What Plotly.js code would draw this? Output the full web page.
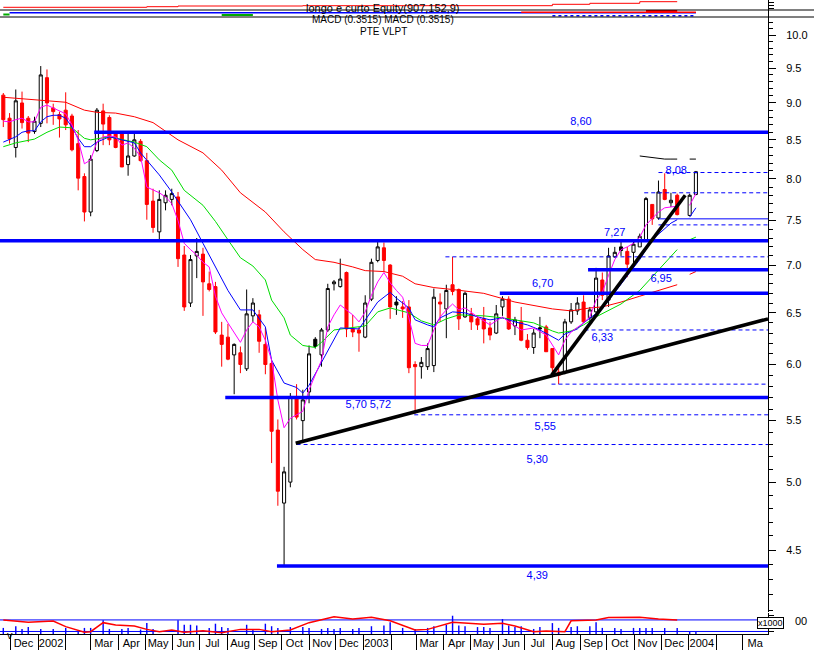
<!DOCTYPE html>
<html><head><meta charset="utf-8">
<script src="https://cdn.plot.ly/plotly-3.0.1.min.js"></script>
<style>html,body{margin:0;padding:0;background:#fff}#chart{width:814px;height:650px}</style>
</head><body><div id="chart"></div>
<script>
// ---------------- DATA ----------------
const weekDates = [
'2001-11-23','2001-11-30','2001-12-07','2001-12-14','2001-12-21','2001-12-28',
'2002-01-04','2002-01-11','2002-01-18','2002-01-25','2002-02-01','2002-02-08','2002-02-15','2002-02-22',
'2002-03-01','2002-03-08','2002-03-15','2002-03-22','2002-03-29',
'2002-04-05','2002-04-12','2002-04-19','2002-04-26',
'2002-05-03','2002-05-10','2002-05-17','2002-05-24','2002-05-31',
'2002-06-07','2002-06-14','2002-06-21','2002-06-28',
'2002-07-05','2002-07-12','2002-07-19','2002-07-26',
'2002-08-02','2002-08-09','2002-08-16','2002-08-23','2002-08-30',
'2002-09-06','2002-09-13','2002-09-20','2002-09-27',
'2002-10-04','2002-10-11','2002-10-18','2002-10-25',
'2002-11-01','2002-11-08','2002-11-15','2002-11-22','2002-11-29',
'2002-12-06','2002-12-13','2002-12-20','2002-12-27',
'2003-01-03','2003-01-10','2003-01-17','2003-01-24','2003-01-31',
'2003-02-07','2003-02-14','2003-02-21','2003-02-28',
'2003-03-07','2003-03-14','2003-03-21','2003-03-28',
'2003-04-04','2003-04-11','2003-04-18','2003-04-25',
'2003-05-02','2003-05-09','2003-05-16','2003-05-23','2003-05-30',
'2003-06-06','2003-06-13','2003-06-20','2003-06-27',
'2003-07-04','2003-07-11','2003-07-18','2003-07-25',
'2003-08-01','2003-08-08','2003-08-15','2003-08-22','2003-08-29',
'2003-09-05','2003-09-12','2003-09-19','2003-09-26',
'2003-10-03','2003-10-10','2003-10-17','2003-10-24','2003-10-31',
'2003-11-07','2003-11-14','2003-11-21','2003-11-28',
'2003-12-05','2003-12-12','2003-12-19','2003-12-26',
'2004-01-02','2004-01-09'];

const openP = [9.11,8.79,8.40,9.00,8.79,8.61,8.72,9.36,8.93,8.84,8.90,8.82,8.45,8.03,7.60,8.36,8.89,8.80,8.58,8.58,
8.18,8.29,8.48,8.23,7.73,7.37,7.71,7.75,7.78,7.11,6.60,7.10,7.12,6.80,6.77,6.28,6.26,6.09,6.11,5.96,
6.47,6.48,6.19,6.01,5.42,4.84,5.00,5.71,5.50,5.75,6.17,6.09,6.33,6.80,6.77,6.92,6.34,6.33,6.26,6.64,
7.05,7.19,7.00,6.58,6.56,6.56,6.00,5.98,5.98,5.99,6.61,6.54,6.79,6.74,6.46,6.49,6.44,6.44,6.35,6.30,
6.56,6.64,6.37,6.41,6.23,6.16,6.34,6.36,6.15,5.93,5.93,6.41,6.52,6.61,6.45,6.51,6.84,6.63,7.09,7.16,
7.15,7.14,7.20,7.28,7.69,7.53,7.87,7.71,7.80,null,7.56,7.81];
const highP = [9.14,8.86,9.19,9.16,8.82,8.81,9.53,9.48,8.99,8.88,9.15,8.85,8.63,8.07,8.30,8.93,8.99,8.83,8.60,8.60,
8.58,8.58,8.51,8.33,7.88,7.86,7.86,7.88,7.84,7.21,7.11,7.30,7.19,6.93,6.82,6.41,6.39,6.20,6.17,6.74,
6.65,6.53,6.35,6.04,5.51,5.12,5.74,5.82,5.77,6.18,6.26,6.35,6.80,6.84,7.07,6.93,6.48,6.36,6.68,7.07,
7.26,7.25,7.01,6.67,6.62,6.63,6.03,6.07,6.20,6.75,6.70,6.79,7.09,6.75,6.72,6.55,6.46,6.56,6.41,6.58,
6.67,6.67,6.46,6.56,6.29,6.34,6.46,6.38,6.15,5.97,6.44,6.60,6.66,6.68,6.56,6.97,6.92,7.19,7.20,7.26,
7.20,7.26,7.35,7.78,7.69,7.98,8.07,7.83,7.82,null,7.82,8.10];
const lowP = [8.67,8.45,8.27,8.65,8.47,8.58,8.67,8.72,8.70,8.53,8.63,8.35,7.86,7.49,7.55,8.34,8.43,8.43,8.39,8.15,
8.04,8.28,8.22,7.51,7.36,7.28,7.62,7.68,6.98,6.52,6.56,6.86,6.47,6.72,6.29,5.98,6.04,5.73,5.92,5.94,
6.41,6.11,5.91,5.15,4.82,4.39,4.96,5.51,5.32,5.65,6.15,5.98,6.31,6.73,6.76,6.26,6.26,6.12,6.25,6.62,
7.03,6.93,6.44,6.48,6.45,5.92,5.56,5.87,5.95,5.93,6.41,6.25,6.68,6.33,6.45,6.33,6.33,6.20,6.23,6.29,
6.47,6.33,6.28,6.22,6.14,6.10,6.25,6.12,5.90,5.82,5.91,6.39,6.48,6.40,6.41,6.50,6.63,6.56,7.08,7.10,
6.87,6.97,7.20,7.26,7.45,7.51,7.74,7.66,7.56,null,7.55,7.80];
const closeP = [8.77,8.51,9.03,8.73,8.59,8.75,9.40,9.00,8.88,8.78,8.70,8.37,8.01,7.60,8.25,8.90,8.71,8.50,8.40,8.15,
8.29,8.50,8.23,7.69,7.42,7.75,7.80,7.82,7.07,6.56,7.06,7.15,6.82,6.74,6.31,6.19,6.05,6.19,6.00,6.49,
6.60,6.22,6.00,5.41,4.93,5.08,5.71,5.53,5.68,6.10,6.24,6.33,6.75,6.82,6.85,6.34,6.31,6.30,6.60,7.03,
7.20,7.05,6.56,6.61,6.54,5.97,5.98,6.02,6.15,6.66,6.59,6.73,6.72,6.44,6.70,6.41,6.38,6.34,6.28,6.49,
6.64,6.34,6.43,6.23,6.16,6.30,6.35,6.12,5.97,5.90,6.41,6.53,6.60,6.41,6.53,6.86,6.68,7.10,7.14,7.20,
7.01,7.23,7.32,7.76,7.52,7.84,7.75,7.74,7.57,null,7.80,8.09];
const blackBodyIdx = [50, 63, 86, 99];

// moving averages: [week index, price]
const maRed = [[0,9.08],[5,9.05],[10,9.01],[13,8.90],[15,8.87],[18,8.86],[21,8.81],[24,8.73],[25,8.67],[28,8.50],
[32,8.33],[35,8.11],[38,7.83],[41,7.66],[42,7.60],[45,7.37],[48,7.17],[50,7.06],[53,7.03],[56,6.98],[58,6.94],
[61,6.93],[64,6.88],[66,6.80],[69,6.76],[72,6.74],[77,6.70],[82,6.61],[88,6.54],[91,6.52],[94,6.55],[96,6.56],
[99,6.61],[102,6.67],[105,6.73],[108,6.79],[109,null],[110,6.90],[111,6.93]];
const maGreen = [[0,8.41],[2,8.46],[5,8.51],[7,8.60],[9,8.67],[11,8.66],[13,8.52],[14,8.50],[17,8.54],[19,8.50],
[21,8.47],[23,8.41],[25,8.24],[27,8.11],[29,7.86],[32,7.68],[34,7.49],[36,7.28],[38,7.08],[40,6.99],[42,6.84],
[43,6.63],[45,6.45],[46,6.28],[48,6.18],[50,6.16],[51,6.21],[53,6.33],[56,6.35],[58,6.37],[60,6.51],[62,6.55],
[65,6.50],[67,6.42],[69,6.38],[71,6.44],[73,6.48],[77,6.47],[80,6.45],[82,6.43],[85,6.40],[88,6.32],[89,6.30],
[91,6.32],[93,6.38],[95,6.46],[99,6.59],[102,6.73],[105,6.95],[108,7.17],[109,null],[110,7.28],[111,7.31]];
const maBlue = [[0,8.47],[1,8.50],[2,8.54],[3,8.60],[4,8.62],[5,8.62],[6,8.74],[7,8.81],[8,8.83],[9,8.83],[10,8.79],
[11,8.67],[12,8.52],[13,8.41],[14,8.41],[15,8.47],[17,8.54],[19,8.50],[21,8.46],[22,8.33],[24,8.15],[25,8.05],
[27,7.84],[30,7.51],[32,7.24],[34,6.98],[36,6.73],[38,6.53],[40,6.53],[42,6.36],[43,6.04],[45,5.83],[47,5.79],
[48,5.74],[49,5.81],[51,6.02],[53,6.23],[54,6.35],[57,6.34],[58,6.43],[60,6.61],[62,6.71],[63,6.65],[65,6.55],
[66,6.43],[68,6.38],[69,6.36],[70,6.45],[72,6.51],[74,6.50],[76,6.46],[78,6.43],[80,6.45],[82,6.41],[84,6.38],
[86,6.33],[89,6.23],[90,6.29],[92,6.34],[93,6.40],[96,6.54],[98,6.71],[100,6.88],[102,7.06],[104,7.28],[107,7.47],
[108,7.51],[109,null],[110,7.54],[111,7.65]];
const maMagenta = [[0,8.75],[1,8.74],[2,8.77],[3,8.79],[4,8.74],[5,8.74],[6,8.94],[7,8.97],[8,8.93],[9,8.89],[10,8.85],
[11,8.70],[12,8.50],[13,8.19],[14,8.24],[15,8.47],[16,8.54],[17,8.55],[18,8.54],[19,8.43],[20,8.46],[21,8.39],
[22,8.28],[23,7.90],[24,7.86],[25,7.83],[26,7.78],[27,7.70],[28,7.50],[29,7.24],[30,7.17],[31,7.11],[32,7.03],
[33,6.98],[34,6.67],[35,6.50],[36,6.40],[37,6.31],[38,6.21],[39,6.33],[40,6.41],[41,6.36],[42,6.23],[43,6.04],
[44,5.68],[45,5.44],[46,5.52],[47,5.55],[48,5.58],[49,5.77],[50,5.90],[51,6.04],[52,6.36],[53,6.48],[54,6.58],
[55,6.53],[56,6.48],[57,6.41],[58,6.51],[59,6.68],[60,6.82],[61,6.92],[62,6.81],[63,6.73],[64,6.66],[65,6.45],
[66,6.20],[67,6.18],[68,6.18],[69,6.33],[70,6.46],[71,6.53],[72,6.59],[73,6.53],[74,6.55],[76,6.46],[78,6.38],
[80,6.46],[81,6.41],[83,6.33],[85,6.35],[87,6.28],[89,6.09],[90,6.23],[91,6.31],[93,6.40],[94,6.46],[95,6.63],
[96,6.71],[97,6.89],[98,7.06],[99,7.17],[100,7.20],[101,7.24],[102,7.31],[103,7.45],[104,7.53],[105,7.60],
[106,7.65],[107,7.66],[108,7.67],[109,null],[110,7.68],[111,7.82]];
const maBlackTop = [[102,8.29],[103,8.28],[104,8.27],[105,8.26],[106,8.25],[107,8.25],[108,8.25],[109,null],[110,8.25],[111,8.25]];

// support / resistance levels
const levelValues = [8.60, 7.27, 6.95, 6.70, 5.70, 4.39];
const levelStarts = ['2002-03-05','2001-11-19','2003-09-10','2003-06-03','2002-07-30','2002-09-26'];
const dashValues  = [8.08, 7.83, 7.45, 7.09, 6.33, 5.82, 5.55, 5.30];
const dashStarts  = ['2003-11-28','2003-11-12','2003-11-28','2003-04-03','2003-09-06','2003-07-31','2003-02-27','2002-10-18'];
const thinValues  = [7.52];
const thinStarts  = ['2003-11-28'];
const levelEnd = '2004-03-29 21:00';

// trend lines: [date, price]
const trendLong  = [['2002-10-17',5.31],['2004-03-29 21:00',6.44]];
const trendSteep = [['2003-07-31',5.90],['2003-12-28',7.80]];

// level label texts and anchors
const labelTexts  = ['8,60','7,27','6,95','6,70','5,70','5,72','6,33','5,55','5,30','4,39','8,08'];
const labelDates  = ['2003-09-02','2003-10-10','2003-12-01','2003-07-21','2002-12-24','2003-01-20','2003-09-26','2003-07-24','2003-07-15','2003-07-15','2003-12-18'];
const labelPrices = [8.74, 7.35, 6.85, 6.79, 5.63, 5.63, 6.25, 5.44, 5.17, 4.32, 8.10];

// volume (weekly, relative units) and oscillator lines in lower panel
const volume = [[0,29],[2,37],[3,24],[4,33],[6,24],[8,24],[10,29],[12,13],[13,29],[14,29],[16,65],[17,24],[19,24],
[20,29],[22,21],[23,52],[24,24],[28,65],[29,44],[30,44],[31,40],[33,29],[34,49],[35,33],[36,29],[39,44],[40,24],
[42,49],[43,37],[44,29],[46,33],[48,33],[49,29],[51,24],[52,29],[53,24],[54,29],[56,24],[57,29],[59,37],[61,40],
[62,56],[64,29],[66,24],[68,29],[69,37],[71,44],[72,87],[73,40],[74,37],[76,33],[77,33],[78,29],[80,71],[81,40],
[82,33],[83,37],[85,24],[86,33],[88,52],[89,29],[91,33],[92,37],[94,37],[95,56],[96,29],[98,29],[99,24],[101,29],
[102,29],[103,29],[104,29],[106,29],[108,29],[110,10],[111,10]];
const oscRed = [[0,67],[2,63],[4,56],[8,62],[10,35],[13,8],[14,11],[16,54],[18,43],[21,38],[23,22],[25,11],[27,19],
[29,8],[32,16],[35,6],[38,22],[41,22],[43,11],[46,19],[49,54],[53,82],[56,71],[59,80],[62,63],[66,19],[68,22],
[72,56],[74,51],[77,46],[80,51],[82,38],[85,11],[87,14],[90,11],[91,63],[95,67],[97,78],[102,80],[105,71],[108,67]];
const oscLevels = [67, 12];

// top strip (squeezed indicator panel) and the thin band below it
const topRed = [[0,2.7],[23,3.3],[28,4.0],[48,4.3],[88,5.7],[94,6.7],[102,8.3],[108,8.3]];
const bandBlue = [[1,4.3],[111,4.3]];
const bandRed = [[83,4.7],[111,4.7]];
const bandRedHigh = [[103,6.0],[108,6.0]];
const bandGreenA = [[0,2.5],[1,2.5]];
const bandGreenB = [[35,2.0],[40,2.0]];
const bandBlueDash = [[88,1.3],[111,1.3]];

// axis ticks
const monthTickDates = ['2001-12-01','2002-01-01','2002-02-01','2002-03-01','2002-04-01','2002-05-01','2002-06-01',
'2002-07-01','2002-08-01','2002-09-01','2002-10-01','2002-11-01','2002-12-01','2003-01-01','2003-02-01','2003-03-01',
'2003-04-01','2003-05-01','2003-06-01','2003-07-01','2003-08-01','2003-09-01','2003-10-01','2003-11-01','2003-12-01',
'2004-01-01','2004-02-01','2004-03-01'];
const monthTickText = ['Dec','2002','','Mar','Apr','May','Jun','Jul','Aug','Sep','Oct','Nov','Dec','2003','','Mar',
'Apr','May','Jun','Jul','Aug','Sep','Oct','Nov','Dec','2004','','Ma'];
const priceTickVals = [4.5,5.0,5.5,6.0,6.5,7.0,7.5,8.0,8.5,9.0,9.5,10.0];
const priceTickText = ['4.5','5.0','5.5','6.0','6.5','7.0','7.5','8.0','8.5','9.0','9.5','10.0'];

// ---------------- BUILD ----------------
const FONT = 'Liberation Sans, Arial, sans-serif';
const BLUE = '#0000ff';
const xRange = ['2001-11-19 07:00', '2004-03-29 21:00'];
const H = 634; // plot area height in px
const pf = px => (H - px) / H;

const isBlack = i => blackBodyIdx.indexOf(i) >= 0;
const traces = [];
traces.push({
  type: 'candlestick', x: weekDates,
  open: openP.map((v,i)=>isBlack(i)?null:v), high: highP.map((v,i)=>isBlack(i)?null:v),
  low: lowP.map((v,i)=>isBlack(i)?null:v), close: closeP.map((v,i)=>isBlack(i)?null:v),
  increasing: {line:{color:'#000', width:1}, fillcolor:'#ffffff'},
  decreasing: {line:{color:'#ff0000', width:1}, fillcolor:'#ff0000'},
  whiskerwidth: 0, hoverinfo: 'skip', xaxis:'x', yaxis:'y'
});
traces.push({
  type: 'candlestick', x: blackBodyIdx.map(i=>weekDates[i]),
  open: blackBodyIdx.map(i=>openP[i]), high: blackBodyIdx.map(i=>highP[i]),
  low: blackBodyIdx.map(i=>lowP[i]), close: blackBodyIdx.map(i=>closeP[i]),
  increasing: {line:{color:'#000', width:1}, fillcolor:'#000'},
  decreasing: {line:{color:'#000', width:1}, fillcolor:'#000'},
  whiskerwidth: 0, hoverinfo: 'skip', xaxis:'x', yaxis:'y'
});
function pairLine(pairs, color, width, yaxis, dash) {
  return {type:'scatter', mode:'lines', x: pairs.map(p=>weekDates[p[0]]), y: pairs.map(p=>p[1]),
    line:{color:color, width:width, dash:dash||'solid'}, connectgaps:false, hoverinfo:'skip', xaxis:'x', yaxis:yaxis};
}
traces.push(pairLine(maRed, '#ff0000', 1, 'y'));
traces.push(pairLine(maGreen, '#00dd00', 1, 'y'));
traces.push(pairLine(maBlue, '#0000ff', 1, 'y'));
traces.push(pairLine(maMagenta, '#ff00ff', 1, 'y'));
traces.push(pairLine(maBlackTop, '#000000', 1, 'y'));

levelValues.forEach((v,k)=>traces.push({type:'scatter', mode:'lines', x:[levelStarts[k], levelEnd], y:[v,v],
  line:{color:BLUE, width:3.5}, hoverinfo:'skip', xaxis:'x', yaxis:'y'}));
dashValues.forEach((v,k)=>traces.push({type:'scatter', mode:'lines', x:[dashStarts[k], levelEnd], y:[v,v],
  line:{color:BLUE, width:1, dash:'4px,3px'}, hoverinfo:'skip', xaxis:'x', yaxis:'y'}));
thinValues.forEach((v,k)=>traces.push({type:'scatter', mode:'lines', x:[thinStarts[k], levelEnd], y:[v,v],
  line:{color:BLUE, width:1}, hoverinfo:'skip', xaxis:'x', yaxis:'y'}));
[trendLong, trendSteep].forEach(t=>traces.push({type:'scatter', mode:'lines', x:t.map(p=>p[0]), y:t.map(p=>p[1]),
  line:{color:'#000', width:3.5}, hoverinfo:'skip', xaxis:'x', yaxis:'y'}));
traces.push({type:'scatter', mode:'text', x: labelDates, y: labelPrices, text: labelTexts,
  textposition:'middle center', textfont:{family:FONT, size:11, color:BLUE}, hoverinfo:'skip', xaxis:'x', yaxis:'y'});

// lower panel
traces.push({type:'bar', x: volume.map(p=>weekDates[p[0]]), y: volume.map(p=>p[1]), width: 1.6*86400000,
  marker:{color:BLUE, line:{width:0}}, hoverinfo:'skip', xaxis:'x', yaxis:'y2'});
oscLevels.forEach(v=>traces.push({type:'scatter', mode:'lines', x:[xRange[0], levelEnd], y:[v,v],
  line:{color:BLUE, width:1}, hoverinfo:'skip', xaxis:'x', yaxis:'y2'}));
traces.push(pairLine(oscRed, '#ff0000', 1.5, 'y2'));

// top strip and band
traces.push({type:'scatter', mode:'lines', x: topRed.map(p=>weekDates[p[0]]), y: topRed.map(p=>p[1]),
  line:{color:'#ff0000', width:1, shape:'hv'}, hoverinfo:'skip', xaxis:'x', yaxis:'y3'});
traces.push(pairLine(bandBlue, BLUE, 1.5, 'y4'));
traces.push(pairLine(bandRed, '#ff0000', 1.5, 'y4'));
traces.push(pairLine(bandRedHigh, '#ff0000', 2, 'y4'));
traces.push(pairLine(bandGreenA, '#00aa00', 2, 'y4'));
traces.push(pairLine(bandGreenB, '#00aa00', 2, 'y4'));
traces.push(pairLine(bandBlueDash, BLUE, 1.5, 'y4', '3px,3px'));

const minorVals = [];
for (let v = 41; v <= 103; v++) if (v % 5 !== 0) minorVals.push(v / 10);

const layout = {
  width: 814, height: 650,
  margin: {l:0, r:46, t:0, b:16, pad:0},
  paper_bgcolor:'#ffffff', plot_bgcolor:'#ffffff',
  showlegend:false,
  font:{family:FONT, size:11, color:'#000'},
  xaxis: {type:'date', range:xRange, anchor:'y2', tickmode:'array', tickvals:monthTickDates, ticktext:monthTickText,
    ticks:'outside', ticklen:16, tickwidth:1, tickcolor:'#000', ticklabelstandoff:-17, ticklabelshift:13,
    showgrid:false, zeroline:false, showline:true, linecolor:'#000', linewidth:1,
    rangeslider:{visible:false}, tickfont:{family:FONT, size:11, color:'#000'}, fixedrange:true},
  yaxis: {type:'log', domain:[pf(612), pf(17)], range:[0.61152, 1.01212], side:'right', anchor:'x',
    tickmode:'array', tickvals:priceTickVals, ticktext:priceTickText, ticks:'outside', ticklen:7, tickcolor:'#000',
    ticklabelstandoff:8, showgrid:false, zeroline:false, showline:true, linecolor:'#000', linewidth:1,
    minor:{tickmode:'array', tickvals:minorVals, ticks:'outside', ticklen:4, tickcolor:'#000'},
    tickfont:{family:FONT, size:11, color:'#000'}, fixedrange:true},
  yaxis2: {domain:[0, pf(613)], range:[0,100], side:'right', anchor:'x', showticklabels:false, ticks:'outside',
    tickvals:[12,67,90], ticklen:5, tickcolor:'#000', showgrid:false, zeroline:false, showline:true, linecolor:'#000', fixedrange:true},
  yaxis3: {domain:[pf(10), 1], range:[0,10], side:'right', anchor:'x', showticklabels:false, ticks:'outside',
    tickvals:[2,5,8], ticklen:5, tickcolor:'#000', showgrid:false, zeroline:false, showline:true, linecolor:'#000', fixedrange:true},
  yaxis4: {domain:[pf(17), pf(10)], range:[0,7], side:'right', anchor:'x', showticklabels:false, ticks:'',
    showgrid:false, zeroline:false, showline:true, linecolor:'#000', fixedrange:true},
  shapes: [
    {type:'line', xref:'paper', yref:'paper', x0:0, x1:814/768, y0:pf(10), y1:pf(10), line:{color:'#000', width:1}},
    {type:'line', xref:'paper', yref:'paper', x0:0, x1:814/768, y0:pf(17), y1:pf(17), line:{color:'#000', width:1}}
  ],
  annotations: [
    {xref:'paper', yref:'paper', x:383/768, y:pf(7.5), text:'longo e curto Equity(907,152,9)', showarrow:false, font:{family:FONT,size:11,color:'#000'}, yanchor:'middle'},
    {xref:'paper', yref:'paper', x:383/768, y:pf(19.5), text:'MACD (0.3515) MACD (0.3515)', showarrow:false, font:{family:FONT,size:10,color:'#000'}, yanchor:'middle'},
    {xref:'paper', yref:'paper', x:383/768, y:pf(31), text:'PTE VLPT', showarrow:false, font:{family:FONT,size:10,color:'#000'}, yanchor:'middle'},
    {xref:'paper', yref:'paper', x:784/768, y:pf(629), text:'x1000', showarrow:false, font:{family:FONT,size:9,color:'#000'}, bordercolor:'#000', borderwidth:1, borderpad:0, bgcolor:'#fff'},
    {xref:'paper', yref:'paper', x:809/768, y:pf(629), text:'00', showarrow:false, font:{family:FONT,size:11,color:'#000'}},
    {xref:'x', yref:'paper', x:weekDates[1], y:pf(643), text:'v', showarrow:false, font:{family:FONT,size:11,color:'#000'}}
  ]
};

Plotly.newPlot('chart', traces, layout, {displayModeBar:false, staticPlot:true});
</script>
</body></html>
